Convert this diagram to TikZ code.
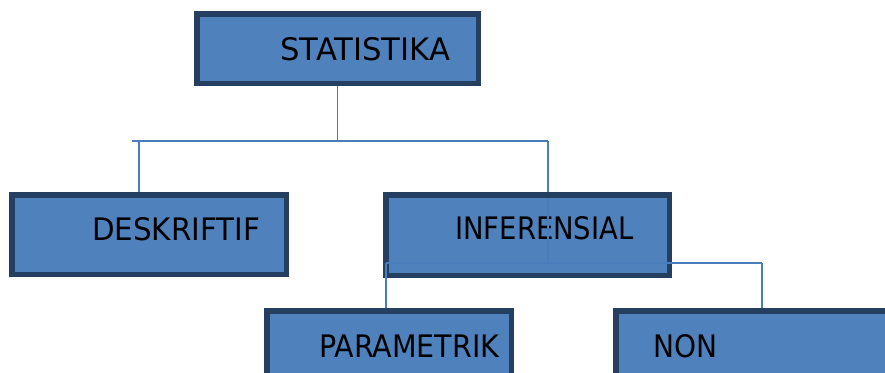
\documentclass[tikz,border=0pt]{standalone}
\usepackage{fontspec}
\usetikzlibrary{backgrounds}
\setmainfont{DejaVu Sans}
\definecolor{boxfill}{HTML}{4F81BD}
\definecolor{boxline}{HTML}{243F60}
\definecolor{conn}{HTML}{4A7DBB}
\tikzset{
  box/.style={draw=boxline, fill=boxfill, line width=5.5pt, inner sep=0pt, rectangle},
  lbl/.style={anchor=base west, inner sep=0pt, font=\fontsize{31}{31}\selectfont, text=black},
  conn/.style={draw=conn, line width=1.7pt}
}
\begin{document}
\begin{tikzpicture}[x=1pt,y=-1pt]
\useasboundingbox (0,0) rectangle (885,372);
\clip (0,0) rectangle (885,372);
% boxes
\node[box, minimum width=281.5pt, minimum height=69.5pt] (stat) at (337.5,48.5) {};
\node[box, minimum width=274.5pt, minimum height=79.5pt] (desk) at (149,234.5) {};
\node[box, minimum width=283.5pt, minimum height=80.5pt] (inf) at (527.5,235) {};
\node[box, minimum width=244.5pt, minimum height=120pt] (par) at (389,370.75) {};
\node[box, minimum width=300pt, minimum height=120pt] (non) at (765.75,370.75) {};
% junction coordinates of the upper tree
\coordinate (j1) at (stat.south |- 0,141);
\coordinate (stub) at (132,141);
\coordinate (jl) at (139,141);
\coordinate (jr) at (548,141);
% upper connectors (under the boxes)
\begin{pgfonlayer}{background}
\draw[conn] (stub) -- (jr);
\draw[conn] (jl) -- (jl |- desk.north);
\draw[conn] (jr) -- (jr |- inf.north);
\draw[conn] (stat.south) -- (j1);
\end{pgfonlayer}
% labels
\node[lbl] (tstat) at (280,60) {\scalebox{0.99}[1]{STATISTIKA}};
\node[lbl] (tdesk) at (92,240) {\scalebox{0.946}[1]{DESKRIFTIF}};
\node[lbl] (tinf) at (455,239) {\scalebox{0.886}[1]{INFERENSIAL}};
\node[lbl] (tpar) at (319,357) {\scalebox{0.92}[1]{PARAMETRIK}};
\node[lbl] (tnon) at (653,357) {\scalebox{0.905}[1]{NON}};
% lower tree connectors (drawn over the INFERENSIAL box)
\coordinate (kin) at (548,197.5);
\coordinate (k1) at (548,263);
\coordinate (kl) at (386,263);
\coordinate (kr) at (762,263);
\draw[conn] (kin) -- (k1);
\draw[conn] (kl) -- (kr);
\draw[conn] (kl) -- (kl |- par.north);
\draw[conn] (kr) -- (kr |- non.north);
\end{tikzpicture}
\end{document}
